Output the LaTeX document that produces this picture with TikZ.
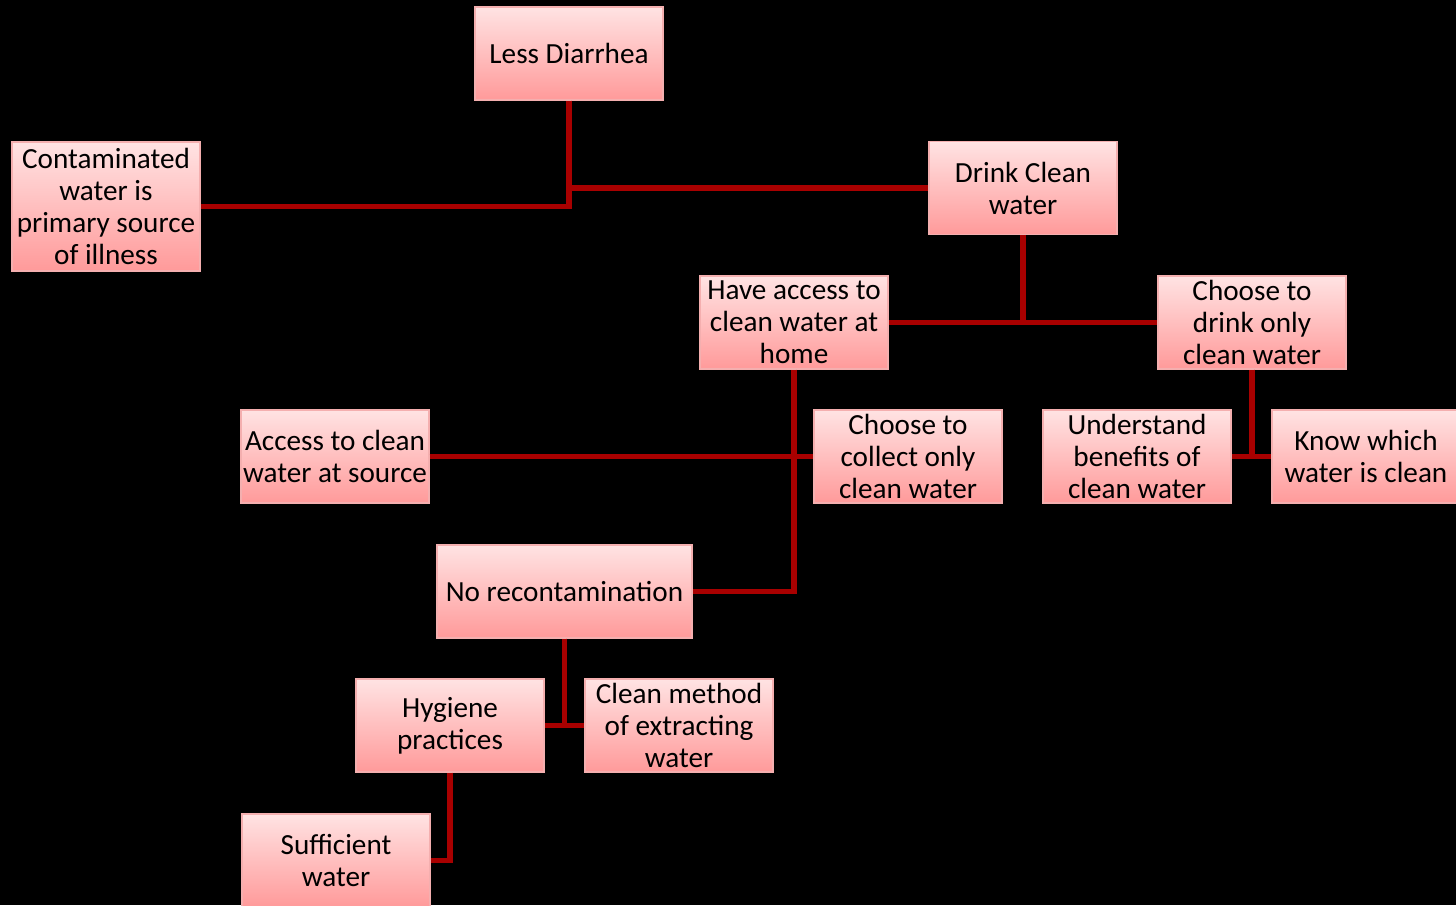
\documentclass[tikz,border=0pt]{standalone}
\usepackage{fontspec}
\setmainfont{Carlito}
\definecolor{boxtop}{HTML}{FFE3E3}
\definecolor{boxbot}{HTML}{FF9A9A}
\definecolor{boxline}{HTML}{F4AFAF}
\definecolor{link}{HTML}{A80000}
\tikzset{
  box/.style={draw=boxline, line width=0.6pt, top color=boxtop, bottom color=boxbot,
    minimum width=94pt, minimum height=46.5pt, inner sep=1pt, align=center,
    font=\fontsize{14.6}{16}\selectfont},
  wide/.style={minimum width=127.5pt},
  link/.style={draw=link, line width=2.6pt, line join=miter}
}
\begin{document}
\begin{tikzpicture}[x=0.5pt,y=-0.5pt]
\fill[black] (0,0) rectangle (1456,905);
\useasboundingbox (0,0) rectangle (1456,905);

% boxes
\node[box] (less) at (569,53.5) {Less Diarrhea};
\node[box, minimum height=64.5pt] (contam) at (106,206.5) {Contaminated\\water is\\primary source\\of illness};
\node[box] (drink) at (1023,188) {Drink Clean\\water};
\node[box] (home) at (794,322.5) {Have access to\\clean water at\\home};
\node[box] (choose) at (1252,322.5) {Choose to\\drink only\\clean water};
\node[box] (source) at (335,456.5) {Access to clean\\water at source};
\node[box] (collect) at (908,456.5) {Choose to\\collect only\\clean water};
\node[box] (benefit) at (1137,456.5) {Understand\\benefits of\\clean water};
\node[box] (know) at (1366,456.5) {Know which\\water is clean};
\node[box, wide] (norecon) at (564.5,591.5) {No recontamination};
\node[box] (hygiene) at (450,725.5) {Hygiene\\practices};
\node[box] (method) at (679,725.5) {Clean method\\of extracting\\water};
\node[box] (suff) at (336,860.5) {Sufficient\\water};

% connectors
\path[link] (less.south) |- (contam.east);
\path[link] (less.south) |- (drink.west);
\path[link] (drink.south) |- (home.east);
\path[link] (drink.south) |- (choose.west);
\path[link] (home.south) |- (norecon.east);
\path[link] (source.east) -- (collect.west);
\path[link] (choose.south) |- (benefit.east);
\path[link] (choose.south) |- (know.west);
\path[link] (norecon.south) |- (hygiene.east);
\path[link] (norecon.south) |- (method.west);
\path[link] (hygiene.south) |- (suff.east);
\end{tikzpicture}
\end{document}
